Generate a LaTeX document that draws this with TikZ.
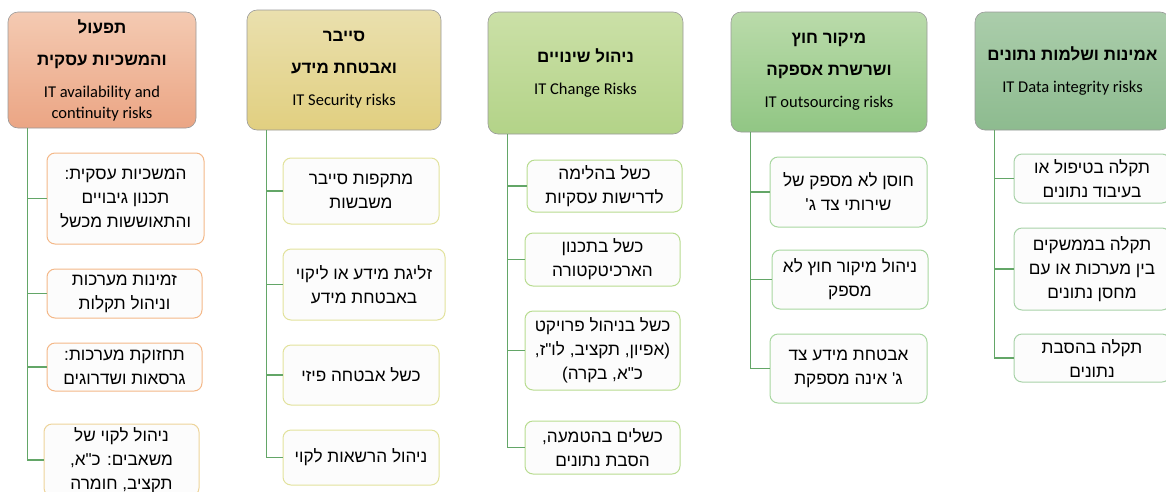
\documentclass[tikz,border=0pt]{standalone}
\usepackage{fontspec}
\TeXXeTstate=1
\newfontfamily\hebfont[Script=Hebrew]{Liberation Sans}
\newfontfamily\enfont{Carlito}
\newcommand\heb[1]{\beginR #1\endR}
\newcommand\hb[1]{{\bfseries\beginR #1\endR}}
\newcommand\en[1]{{\enfont\fontsize{16.5}{18}\selectfont #1}}

\definecolor{spinegreen}{HTML}{63A667}
\definecolor{orangeline}{HTML}{F4B888}
\definecolor{sandline}{HTML}{EDD49A}
\definecolor{yellowline}{HTML}{E2E29C}
\definecolor{limeline}{HTML}{B8DC90}
\definecolor{greenline}{HTML}{A8D7A0}
\definecolor{sageline}{HTML}{A8D2A8}

\tikzset{
  hdr/.style={rectangle, rounded corners=10pt, draw=black!40, line width=.6pt,
    align=center, inner sep=2pt, font=\hebfont\fontsize{17}{32}\selectfont},
  item/.style={rectangle, rounded corners=8pt, draw=#1, line width=1pt,
    fill=black!1, align=center, inner sep=2pt,
    font=\hebfont\fontsize{17.2}{24}\selectfont},
  spine/.style={draw=spinegreen, line width=1.5pt}
}

\begin{document}
\begin{tikzpicture}[x=1pt,y=-1pt]
  \useasboundingbox (0,0) rectangle (1166,491);
  \clip (0,0) rectangle (1166,491);

  % availability
  \node[hdr, top color={rgb,255:red,244;green,202;blue,178}, bottom color={rgb,255:red,235;green,165;blue,132},
    minimum width=188pt, minimum height=116pt] (h1) at (102,70)
    {\hb{תפעול}\\\hb{והמשכיות עסקית}\\\en{IT availability and}\\[-11pt]\en{continuity risks}};
  \node[item=orangeline, minimum width=157pt, minimum height=91pt] (c1) at (125.5,198.5)
    {\heb{המשכיות עסקית:}\\\heb{תכנון גיבויים}\\\heb{והתאוששות מכשל}};
  \node[item=orangeline, minimum width=155pt, minimum height=49pt] (c2) at (124.5,293.5)
    {\heb{זמינות מערכות}\\\heb{וניהול תקלות}};
  \node[item=orangeline, minimum width=155pt, minimum height=48pt] (c3) at (124.5,367)
    {\heb{תחזוקת מערכות:}\\\heb{גרסאות ושדרוגים}};
  \node[item=sandline, minimum width=155pt, minimum height=72pt] (c4) at (121.5,460)
    {\heb{ניהול לקוי של}\\\heb{משאבים: כ"א,}\\\heb{תקציב, חומרה}};

  % security
  \node[hdr, top color={rgb,255:red,234;green,224;blue,174}, bottom color={rgb,255:red,225;green,207;blue,128},
    minimum width=194pt, minimum height=120pt] (h2) at (344,70)
    {\hb{סייבר}\\\hb{ואבטחת מידע}\\\en{IT Security risks}};
  \node[item=yellowline, minimum width=156pt, minimum height=66pt] (d1) at (361,191)
    {\heb{מתקפות סייבר}\\\heb{משבשות}};
  \node[item=yellowline, minimum width=162pt, minimum height=71pt] (d2) at (364,284.5)
    {\heb{זליגת מידע או ליקוי}\\\heb{באבטחת מידע}};
  \node[item=yellowline, minimum width=156pt, minimum height=60pt] (d3) at (361,375)
    {\heb{כשל אבטחה פיזי}};
  \node[item=yellowline, minimum width=156pt, minimum height=55pt] (d4) at (361,457.5)
    {\heb{ניהול הרשאות לקוי}};

  % change
  \node[hdr, top color={rgb,255:red,203;green,224;blue,167}, bottom color={rgb,255:red,179;green,211;blue,136},
    minimum width=195pt, minimum height=122pt] (h3) at (585.5,73)
    {\hb{ניהול שינויים}\\\en{IT Change Risks}};
  \node[item=limeline, minimum width=155pt, minimum height=52pt] (e1) at (604.5,186)
    {\heb{כשל בהלימה}\\\heb{לדרישות עסקיות}};
  \node[item=limeline, minimum width=155pt, minimum height=53pt] (e2) at (602.5,259.5)
    {\heb{כשל בתכנון}\\\heb{הארכיטקטורה}};
  \node[item=limeline, minimum width=155pt, minimum height=79pt] (e3) at (602.5,350.5)
    {\heb{כשל בניהול פרויקט}\\\heb{(אפיון, תקציב, לו"ז,}\\\heb{כ"א, בקרה)}};
  \node[item=limeline, minimum width=155pt, minimum height=53pt] (e4) at (602.5,447.5)
    {\heb{כשלים בהטמעה,}\\\heb{הסבת נתונים}};

  % outsourcing
  \node[hdr, top color={rgb,255:red,186;green,219;blue,170}, bottom color={rgb,255:red,145;green,198;blue,132},
    minimum width=196pt, minimum height=120pt] (h4) at (829,72)
    {\hb{מיקור חוץ}\\\hb{ושרשרת אספקה}\\\en{IT outsourcing risks}};
  \node[item=greenline, minimum width=157pt, minimum height=70pt] (f1) at (848.5,192)
    {\heb{חוסן לא מספק של}\\\heb{שירותי צד ג'}};
  \node[item=greenline, minimum width=156pt, minimum height=59pt] (f2) at (850,279.5)
    {\heb{ניהול מיקור חוץ לא}\\\heb{מספק}};
  \node[item=greenline, minimum width=157pt, minimum height=69pt] (f3) at (848.5,368.5)
    {\heb{אבטחת מידע צד}\\\heb{ג' אינה מספקת}};

  % data integrity
  \node[hdr, top color={rgb,255:red,171;green,205;blue,171}, bottom color={rgb,255:red,141;green,187;blue,143},
    minimum width=195pt, minimum height=118pt] (h5) at (1072.5,71)
    {\hb{אמינות ושלמות נתונים}\\\en{IT Data integrity risks}};
  \node[item=sageline, minimum width=156pt, minimum height=49pt] (g1) at (1092,178.5)
    {\heb{תקלה בטיפול או}\\\heb{בעיבוד נתונים}};
  \node[item=sageline, minimum width=156pt, minimum height=82pt] (g2) at (1092,269)
    {\heb{תקלה בממשקים}\\\heb{בין מערכות או עם}\\\heb{מחסן נתונים}};
  \node[item=sageline, minimum width=156pt, minimum height=48pt] (g3) at (1092,358)
    {\heb{תקלה בהסבת}\\\heb{נתונים}};

  % spines
  \foreach \c in {c1,c2,c3,c4}
    \draw[spine] ([xshift=20pt]h1.south west) |- (\c.west);
  \foreach \c in {d1,d2,d3,d4}
    \draw[spine] ([xshift=20pt]h2.south west) |- (\c.west);
  \foreach \c in {e1,e2,e3,e4}
    \draw[spine] ([xshift=20pt]h3.south west) |- (\c.west);
  \foreach \c in {f1,f2,f3}
    \draw[spine] ([xshift=20pt]h4.south west) |- (\c.west);
  \foreach \c in {g1,g2,g3}
    \draw[spine] ([xshift=20pt]h5.south west) |- (\c.west);
\end{tikzpicture}
\end{document}
